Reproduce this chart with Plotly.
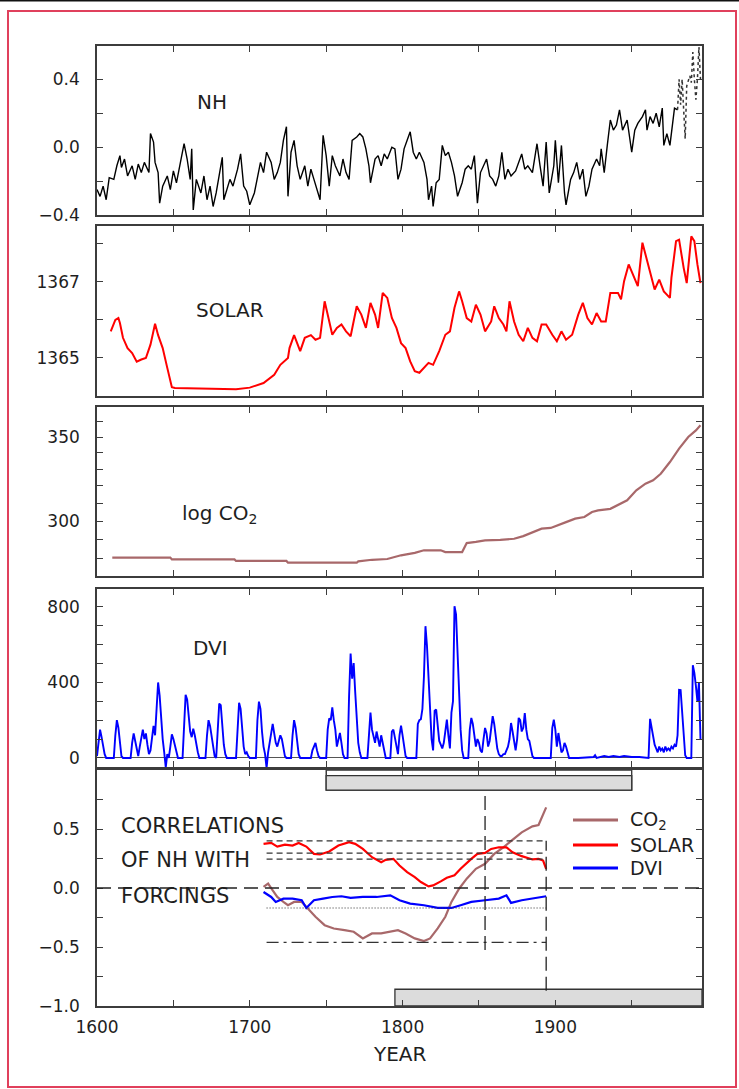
import plotly.graph_objects as go

# ---------------- DATA ----------------
nh_years = [1600,1602,1604,1606,1608,1611,1613,1615,1616,1618,1620,1623,1625,1627,1629,1631,1634,1635,1637,1638,
            1640,1641,1643,1646,1648,1650,1652,1654,1657,1659,1661,1662,1663,1665,1668,1670,1672,1674,1676,1678,
            1682,1683,1685,1687,1689,1692,1694,1696,1698,1700,1703,1705,1707,1709,1711,1714,1716,1718,1720,1722,
            1724,1725,1727,1729,1731,1733,1736,1738,1740,1742,1744,1746,1748,1750,1752,1754,1756,1759,1761,1763,
            1765,1767,1770,1772,1774,1776,1778,1779,1782,1784,1786,1788,1790,1793,1795,1797,1799,
            1801,1803,1805,1807,1809,1811,1814,1816,1817,1819,1820,1822,1824,1826,1828,1830,1832,1834,1836,1839,
            1841,1843,1845,1847,1849,1851,1853,1855,1857,1859,1861,1863,1865,1867,1869,1871,1874,1876,1878,1880,
            1882,1885,1887,1888,1890,1892,1894,1896,1899,1900,1902,1904,1906,1907,1910,1912,1914,1916,1918,1920,
            1922,1924,1927,1929,1930,1932,1934,1936,1938,1940,1942,1944,1947,1949,1950,1952,1954,1957,1959,1960,
            1962,1964,1966,1968,1970,1971,1973,1975,1977,1978,1980]
nh_values = [-0.25,-0.29,-0.23,-0.31,-0.18,-0.19,-0.11,-0.05,-0.12,-0.07,-0.17,-0.11,-0.19,-0.10,-0.15,-0.09,-0.15,0.08,0.03,-0.09,
             -0.15,-0.33,-0.23,-0.17,-0.25,-0.14,-0.21,-0.11,0.02,-0.07,-0.19,-0.01,-0.37,-0.19,-0.27,-0.17,-0.31,-0.23,-0.35,-0.27,
             -0.06,-0.31,-0.25,-0.19,-0.23,-0.13,-0.04,-0.23,-0.26,-0.34,-0.27,-0.17,-0.09,-0.15,-0.03,-0.09,-0.19,-0.15,-0.09,0.04,
             0.12,-0.29,-0.03,0.04,-0.11,-0.19,-0.11,-0.23,-0.13,-0.19,-0.25,-0.31,0.07,-0.05,-0.23,-0.05,-0.11,-0.17,-0.07,-0.15,
             -0.19,0.04,0.06,0.08,0.06,-0.01,-0.11,-0.21,-0.07,-0.05,-0.11,-0.04,-0.07,0.00,-0.01,-0.19,-0.13,
             -0.01,0.04,0.09,-0.03,-0.07,-0.03,-0.09,-0.19,-0.31,-0.23,-0.35,-0.21,-0.19,0.01,-0.05,-0.03,-0.09,-0.17,-0.29,-0.21,
             -0.13,-0.11,-0.13,-0.05,-0.33,-0.15,-0.11,-0.07,-0.17,-0.19,-0.23,-0.17,-0.03,-0.19,-0.13,-0.17,-0.14,-0.09,-0.04,-0.13,
             -0.11,-0.15,-0.03,0.02,-0.11,-0.23,0.03,-0.27,-0.11,0.04,-0.21,0.01,-0.27,-0.34,-0.19,-0.15,-0.09,-0.19,-0.13,-0.29,
             -0.23,-0.13,-0.07,-0.11,-0.01,-0.15,0.01,0.16,0.10,0.13,0.22,0.10,0.16,0.01,-0.03,0.10,0.14,0.18,0.22,0.10,
             0.18,0.14,0.20,0.12,0.23,0.01,0.08,0.01,0.16,0.23,0.22]

inst_years = [1980,1981,1982,1983,1984,1985,1986,1987,1988,1989,1990,1991,1992,1993,1994,1995]
inst_values = [0.22,0.40,0.25,0.40,0.22,0.05,0.36,0.40,0.42,0.38,0.56,0.40,0.28,0.40,0.59,0.40]

solar_years = [1609,1612,1614,1615,1617,1620,1623,1626,1629,1632,1635,1638,1640,1643,1646,1649,1651,1691,1700,1709,
               1716,1720,1725,1726,1729,1733,1736,1740,1743,1746,1749,1751,1754,1757,1760,1763,1766,1770,1773,1776,
               1779,1782,1784,1787,1790,1793,1796,1799,1802,1805,1808,1811,1814,1817,1820,1824,1828,1831,1834,1837,
               1839,1842,1845,1848,1851,1854,1858,1860,1863,1866,1868,1870,1873,1876,1879,1882,1885,1888,1891,1894,
               1898,1901,1904,1907,1911,1915,1918,1921,1924,1927,1930,1933,1936,1941,1943,1945,1948,1952,1954,1957,
               1959,1962,1965,1968,1971,1975,1976,1979,1981,1984,1986,1989,1991,1993,1995]
solar_values = [1365.70,1366.00,1366.05,1365.92,1365.53,1365.26,1365.13,1364.90,1364.96,1365.00,1365.35,1365.90,1365.60,1365.26,1364.74,1364.23,1364.21,1364.18,1364.22,1364.34,
                1364.56,1364.82,1365.00,1365.26,1365.60,1365.18,1365.53,1365.60,1365.48,1365.53,1366.49,1366.14,1365.61,1365.79,1365.88,1365.70,1365.57,1366.36,1366.14,1365.79,
                1366.45,1366.14,1365.79,1366.71,1366.58,1366.05,1365.79,1365.39,1365.26,1364.91,1364.65,1364.61,1364.74,1364.87,1364.82,1365.18,1365.61,1365.70,1366.32,1366.75,
                1366.49,1366.05,1365.96,1366.40,1366.14,1365.70,1365.96,1366.36,1366.05,1365.88,1365.70,1366.49,1365.96,1365.61,1365.44,1365.79,1365.53,1365.44,1365.88,1365.88,
                1365.61,1365.44,1365.70,1365.48,1365.61,1366.14,1366.45,1366.05,1365.88,1366.18,1365.96,1365.96,1366.71,1366.71,1366.54,1367.02,1367.46,1367.06,1366.89,1368.03,
                1367.72,1367.19,1366.80,1367.06,1366.75,1366.58,1367.11,1368.07,1368.11,1367.37,1366.97,1368.20,1368.07,1367.46,1366.97]

co2_years = [1610,1648,1649,1690,1691,1724,1725,1770,1771,1780,1790,1799,1808,1814,1825,1828,1839,1842,1848,1854,
             1864,1873,1879,1885,1891,1897,1902,1907,1913,1919,1924,1928,1936,1941,1947,1953,1959,1964,1969,1975,
             1981,1987,1992,1995]
co2_values = [280.5,280.5,279.6,279.6,278.8,278.8,277.9,277.9,278.6,279.4,279.8,281.7,283.0,284.3,284.3,283.4,283.4,288.1,288.7,289.5,
              289.8,290.4,291.8,294.0,295.8,296.2,297.6,299.4,301.3,302.2,305.0,305.9,306.8,308.8,311.6,317.4,321.3,323.3,327.2,334.3,
              342.6,350.0,354.3,357.6]

dvi_years = [1600,1601,1602,1603,1604,1605,1606,1611,1612,1613,1614,1615,1616,1617,
             1622,1623,1624,1625,1626,1627,1628,1629,1630,1631,1632,1633,1634,1635,1636,1637,1638,1639,1640,1641,1642,1643,1644,1645,1646,1647,1648,1649,1650,1651,1652,1653,
             1656,1657,1658,1659,1660,1661,1662,1663,1664,1665,1666,1667,
             1671,1672,1673,1674,1675,1676,1677,1678,1679,1680,1681,1682,1683,1684,1685,
             1691,1692,1693,1694,1695,1696,1697,1698,1699,1700,
             1704,1705,1706,1707,1708,1709,1710,1711,1712,1713,1714,1715,1716,1717,1718,1719,1720,1721,1722,1723,1724,
             1727,1728,1729,1730,1731,1732,1733,
             1740,1741,1742,1743,1744,1745,1746,
             1750,1751,1752,1753,1754,1755,1756,1757,1758,1759,1760,1761,1762,
             1764,1765,1766,1767,1768,1769,1770,1771,1772,1773,
             1777,1778,1779,1780,1781,1782,1783,1784,1785,1786,1787,1788,1789,
             1792,1793,1794,1795,1796,1797,1798,1799,1800,1801,1802,1803,
             1809,1810,1811,1812,1813,1814,1815,1816,1817,1818,1819,1820,1821,1822,1823,1824,1825,1826,1827,1828,1829,1830,1831,1832,1833,1834,1835,1836,1837,1838,1839,1840,
             1843,1844,1845,1846,1847,1848,1849,1850,1851,1852,1853,1854,1855,1856,1857,1858,1859,1860,1861,1862,1863,1864,1865,1866,1867,1868,1869,1870,1871,1872,1873,1874,1875,1876,1877,1878,1879,1880,1881,1882,1883,1884,1885,1886,
             1897,1898,1899,1900,1901,1902,1903,1904,1905,1906,1907,1908,1909,
             1915,1925,1926,1927,1932,1935,1938,1942,1945,1950,1955,1961,
             1962,1963,1964,1965,1966,1967,1968,1969,1970,1971,1972,1973,1974,1975,1976,1977,1978,1979,1980,
             1981,1982,1983,1984,1985,1986,1989,1990,1991,1992,1993,1994,1995]
dvi_values = [10,80,150,110,60,20,0,0,120,200,160,80,10,0,
              0,80,130,90,50,10,60,110,150,100,130,70,20,40,110,170,120,260,400,330,200,100,30,-50,20,0,60,125,100,60,20,0,
              0,150,335,310,220,140,110,155,120,70,30,0,
              0,120,200,170,110,50,10,0,150,288,280,160,70,20,0,
              0,160,292,260,150,60,20,30,10,0,
              0,200,298,260,140,60,20,-53,30,90,150,180,130,80,60,100,120,100,50,10,0,
              0,120,200,160,80,20,0,
              0,40,60,80,40,10,0,
              0,150,210,200,268,200,150,60,100,132,80,20,0,
              0,330,553,420,503,350,200,80,30,0,
              0,110,240,150,120,80,140,90,60,120,80,30,0,
              0,140,150,110,60,20,120,171,120,60,10,0,
              0,180,200,205,260,430,698,592,400,250,100,40,250,256,150,90,70,50,80,160,203,120,50,240,300,804,760,556,300,150,40,0,
              0,150,212,180,120,60,100,80,40,30,100,159,130,60,90,150,221,180,110,50,20,10,10,20,20,40,60,100,185,140,80,40,100,212,200,140,160,238,150,100,90,40,10,0,
              0,160,203,150,60,132,80,30,40,80,60,20,0,
              0,5,15,0,10,5,10,5,10,5,5,0,
              207,160,100,70,50,30,60,40,50,30,60,40,50,40,60,50,70,60,120,
              361,360,250,150,14,0,0,491,450,382,300,400,100]

corr_solar_years = [1709,1714,1718,1723,1728,1732,1737,1742,1746,1752,1758,1765,1769,1774,1780,1786,1789,1794,1798,1803,
                    1808,1812,1817,1820,1825,1829,1834,1838,1845,1849,1854,1858,1863,1868,1872,1878,1885,1889,1892,1894]
corr_solar = [0.374,0.382,0.351,0.368,0.36,0.382,0.351,0.289,0.284,0.309,0.36,0.388,0.374,0.331,0.261,0.219,0.239,0.247,0.191,0.135,
              0.093,0.051,0.014,0.022,0.056,0.087,0.107,0.163,0.247,0.289,0.298,0.331,0.345,0.345,0.303,0.27,0.242,0.247,0.233,0.163]

corr_co2_years = [1709,1712,1715,1718,1722,1725,1729,1734,1738,1743,1749,1755,1762,1768,1774,1780,1786,1792,1797,1802,
                  1808,1814,1818,1823,1828,1832,1837,1842,1848,1854,1860,1866,1872,1878,1885,1889,1894]
corr_co2 = [0.01,0.037,-0.02,-0.076,-0.118,-0.146,-0.118,-0.118,-0.174,-0.244,-0.315,-0.343,-0.357,-0.371,-0.427,-0.385,-0.385,-0.371,-0.357,-0.385,
            -0.427,-0.449,-0.427,-0.343,-0.244,-0.118,-0.006,0.079,0.163,0.205,0.289,0.345,0.41,0.472,0.522,0.534,0.683]

corr_dvi_years = [1709,1714,1717,1722,1728,1734,1737,1742,1748,1754,1760,1766,1774,1783,1792,1798,1805,1814,1823,1832,
                  1838,1845,1854,1863,1868,1871,1878,1885,1894]
corr_dvi = [-0.034,-0.076,-0.118,-0.09,-0.09,-0.104,-0.169,-0.104,-0.09,-0.076,-0.07,-0.084,-0.076,-0.076,-0.062,-0.104,-0.132,-0.146,-0.169,-0.169,
            -0.146,-0.118,-0.104,-0.09,-0.062,-0.126,-0.104,-0.09,-0.07]

# reference levels in the correlation panel
level_dashed = [0.40, 0.295, 0.245]
level_dotted = -0.17
level_dashdot = -0.46
level_span = [1711, 1894]
vline_years = [1854, 1894]
vline_spans = [[-0.525, 0.795], [-0.87, 0.40]]
window_top = [1750, 1950]
window_bottom = [1795, 1996]

x_major_years = [1600, 1700, 1800, 1900]
x_minor_years = [1650, 1750, 1850, 1950]

# ---------------- STYLE ----------------
W, H = 739, 1089
FONT = "DejaVu Sans"
AX = "#3c3c3c"
TXT = "#1e1e1e"
CO2_C = "#a8686a"
SOLAR_C = "#ff0000"
DVI_C = "#0000ff"

X_DOMAIN = [97 / W, 702 / W]
PANELS = [(46, 215), (226, 396), (407, 576), (589, 767), (770, 1006)]


def ydom(top, bottom):
    return [1 - bottom / H, 1 - top / H]


def px(x):
    return x / W


def py(y):
    return 1 - y / H


fig = go.Figure()

fig.add_trace(go.Scatter(x=nh_years, y=nh_values, mode="lines", name="NH",
                         line=dict(color="black", width=1.4), xaxis="x", yaxis="y"))
fig.add_trace(go.Scatter(x=inst_years, y=inst_values, mode="lines", name="NH instrumental",
                         line=dict(color="#333333", width=1.5, dash="dot"), xaxis="x", yaxis="y"))
fig.add_trace(go.Scatter(x=solar_years, y=solar_values, mode="lines", name="SOLAR",
                         line=dict(color=SOLAR_C, width=2), xaxis="x2", yaxis="y2"))
fig.add_trace(go.Scatter(x=co2_years, y=co2_values, mode="lines", name="log CO2",
                         line=dict(color=CO2_C, width=2.2), xaxis="x3", yaxis="y3"))
fig.add_trace(go.Scatter(x=dvi_years, y=dvi_values, mode="lines", name="DVI",
                         line=dict(color=DVI_C, width=1.9), xaxis="x4", yaxis="y4"))
fig.add_trace(go.Scatter(x=corr_co2_years, y=corr_co2, mode="lines", name="CO2",
                         line=dict(color=CO2_C, width=2.2), xaxis="x5", yaxis="y5"))
fig.add_trace(go.Scatter(x=corr_solar_years, y=corr_solar, mode="lines", name="SOLAR",
                         line=dict(color=SOLAR_C, width=2.2), xaxis="x5", yaxis="y5"))
fig.add_trace(go.Scatter(x=corr_dvi_years, y=corr_dvi, mode="lines", name="DVI",
                         line=dict(color=DVI_C, width=2.2), xaxis="x5", yaxis="y5"))

tickfont = dict(family=FONT, size=17, color=TXT)
layout = dict(width=W, height=H, margin=dict(l=0, r=0, t=0, b=0, pad=0, autoexpand=False),
              paper_bgcolor="white", plot_bgcolor="white", showlegend=False)

minor_style = dict(ticks="inside", ticklen=6, tickwidth=1.2, tickcolor=AX, showgrid=False)

y_specs = [
    dict(range=[-0.4, 0.596], tickvals=[-0.4, 0.0, 0.4], ticktext=["\u22120.4", "0.0", "0.4"],
         minor=dict(tickmode="array", tickvals=[-0.2, 0.2], **minor_style)),
    dict(range=[1364.0, 1368.47], tickvals=[1365, 1367], ticktext=["1365", "1367"],
         minor=dict(tickmode="array", tickvals=[1364, 1366, 1368], **minor_style)),
    dict(type="log", range=[2.4333, 2.568], tickvals=[300, 350], ticktext=["300", "350"],
         minor=dict(tickmode="array", tickvals=[280, 290, 310, 320, 330, 340, 360], **minor_style)),
    dict(range=[-48, 895], tickvals=[0, 400, 800], ticktext=["0", "400", "800"],
         minor=dict(tickmode="array", tickvals=[100, 200, 300, 500, 600, 700], **minor_style),
         zeroline=True, zerolinecolor="#555555", zerolinewidth=1.2),
    dict(range=[-1.0, 1.0], tickvals=[-1.0, -0.5, 0.0, 0.5],
         ticktext=["\u22121.0", "\u22120.5", "0.0", "0.5"],
         minor=dict(tickmode="array", tickvals=[-0.75, -0.25, 0.25, 0.75], **minor_style)),
]

for i in range(1, 6):
    xs = "" if i == 1 else str(i)
    top, bottom = PANELS[i - 1]
    layout["xaxis" + xs] = dict(
        domain=X_DOMAIN, range=[1600, 1996], anchor="y" + xs, automargin=False,
        tickmode="array", tickvals=x_major_years, ticktext=[str(v) for v in x_major_years],
        minor=dict(tickmode="array", tickvals=x_minor_years, **minor_style),
        showticklabels=(i == 5), ticks="inside", ticklen=6, tickwidth=1.2, tickcolor=AX,
        showline=True, linecolor=AX, linewidth=1.6, mirror="allticks",
        showgrid=False, zeroline=False, tickfont=tickfont, ticklabelstandoff=5,
    )
    ya = dict(
        domain=ydom(top, bottom), anchor="x" + xs, automargin=False,
        tickmode="array", ticks="inside", ticklen=6, tickwidth=1.2, tickcolor=AX,
        showline=True, linecolor=AX, linewidth=1.6, mirror="allticks",
        showgrid=False, zeroline=False, tickfont=tickfont, ticklabelstandoff=12,
    )
    ya.update(y_specs[i - 1])
    layout["yaxis" + xs] = ya

shapes = []
# outer frame
shapes.append(dict(type="rect", xref="paper", yref="paper", x0=px(8), x1=px(736), y0=py(1087), y1=py(11),
                   line=dict(color="#e0405c", width=2), fillcolor="rgba(0,0,0,0)", layer="above"))
shapes.append(dict(type="line", xref="paper", yref="paper", x0=0, x1=1, y0=py(0.7), y1=py(0.7),
                   line=dict(color="#111111", width=1.5)))

# window bars
shapes.append(dict(type="rect", xref="x5", yref="y5", x0=window_top[0], x1=window_top[1], y0=0.83, y1=1.0,
                   line=dict(color="#333333", width=1.3), fillcolor="white", layer="below"))
shapes.append(dict(type="rect", xref="x5", yref="y5", x0=window_top[0], x1=window_top[1], y0=0.83, y1=0.952,
                   line=dict(color="#333333", width=1.3), fillcolor="#dcdcdc", layer="below"))
shapes.append(dict(type="rect", xref="x5", yref="y5", x0=window_bottom[0], x1=window_bottom[1], y0=-1.0, y1=-0.858,
                   line=dict(color="#333333", width=1.3), fillcolor="#dcdcdc", layer="below"))

# zero line
shapes.append(dict(type="line", xref="x5", yref="y5", x0=1600, x1=1996, y0=0, y1=0,
                   line=dict(color="#222222", width=1.3, dash="14px,7px")))
for lv in level_dashed:
    shapes.append(dict(type="line", xref="x5", yref="y5", x0=level_span[0], x1=level_span[1], y0=lv, y1=lv,
                       line=dict(color="#333333", width=1.3, dash="6px,4px")))
shapes.append(dict(type="line", xref="x5", yref="y5", x0=level_span[0], x1=level_span[1],
                   y0=level_dotted, y1=level_dotted, line=dict(color="#333333", width=1.1, dash="1px,2px")))
shapes.append(dict(type="line", xref="x5", yref="y5", x0=level_span[0], x1=level_span[1],
                   y0=level_dashdot, y1=level_dashdot, line=dict(color="#333333", width=1.3, dash="12px,5px,3px,5px")))
for vx, span in zip(vline_years, vline_spans):
    shapes.append(dict(type="line", xref="x5", yref="y5", x0=vx, x1=vx, y0=span[0], y1=span[1],
                       line=dict(color="#222222", width=1.3, dash="14px,6px")))

# legend samples
legend_items = [("CO<sub>2</sub>", CO2_C, 820), ("SOLAR", SOLAR_C, 845), ("DVI", DVI_C, 868)]
for _, col, yy in legend_items:
    shapes.append(dict(type="line", xref="paper", yref="paper", x0=px(573), x1=px(618), y0=py(yy), y1=py(yy),
                       line=dict(color=col, width=3)))
layout["shapes"] = shapes

annotations = []


def ann(text, x, y, size, xanchor="center"):
    annotations.append(dict(text=text, x=px(x), y=py(y), xref="paper", yref="paper", showarrow=False,
                            xanchor=xanchor, yanchor="middle", font=dict(family=FONT, size=size, color=TXT)))


ann("NH", 212, 102, 20)
ann("SOLAR", 230, 310, 20)
ann("log CO<sub>2</sub>", 220, 514, 20)
ann("DVI", 210, 648, 20)
ann("CORRELATIONS", 119, 826, 21, "left")
ann("OF NH WITH", 119, 860, 21, "left")
ann("FORCINGS", 119, 896, 21, "left")
ann("YEAR", 400, 1054, 20)
for label, _, yy in legend_items:
    ann(label, 628, yy, 19, "left")
layout["annotations"] = annotations

fig.update_layout(layout)
fig.write_html("out.html", config={"displayModeBar": False},
               post_script="document.body.style.margin='0';document.body.style.padding='0';")
